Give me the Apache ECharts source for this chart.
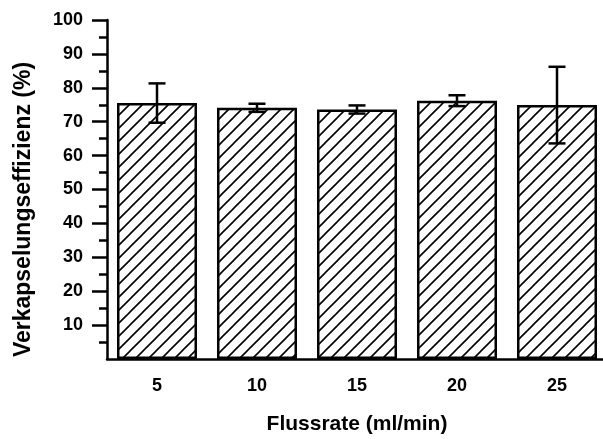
<!DOCTYPE html>
<html>
<head>
<meta charset="utf-8">
<script src="https://cdn.jsdelivr.net/npm/echarts@6/dist/echarts.min.js"></script>
<style>
  html, body { margin: 0; padding: 0; background: #fff; }
  #chart { width: 603px; height: 439px; }
</style>
</head>
<body>
<div id="chart"></div>
<script>
var categories = ['5', '10', '15', '20', '25'];
var values = [75.5, 74.1, 73.6, 76.2, 74.9];
var errors = [5.8, 1.2, 1.2, 1.6, 11.3];
var majorTicks = [10, 20, 30, 40, 50, 60, 70, 80, 90, 100];
var minorTicks = [5, 15, 25, 35, 45, 55, 65, 75, 85, 95];

// diagonal hatch tile
var tile = document.createElement('canvas');
var s = 13;
tile.width = s; tile.height = s;
var c = tile.getContext('2d');
c.fillStyle = '#fff';
c.fillRect(0, 0, s, s);
c.strokeStyle = '#000';
c.lineWidth = 1.6;
c.beginPath();
c.moveTo(-1, s + 1); c.lineTo(s + 1, -1);
c.moveTo(-1, 1); c.lineTo(1, -1);
c.moveTo(s - 1, s + 1); c.lineTo(s + 1, s - 1);
c.stroke();

var errData = values.map(function (v, i) {
    return [i, v - errors[i], v + errors[i]];
});

var font = '"Liberation Sans", Arial, sans-serif';

var chart = echarts.init(document.getElementById('chart'));
chart.setOption({
    animation: false,
    grid: { left: 107, top: 20, width: 500, height: 339, outerBoundsMode: 'none', containLabel: false },
    xAxis: {
        type: 'category',
        data: categories,
        name: 'Flussrate (ml/min)',
        nameLocation: 'middle',
        nameGap: 55,
        nameTextStyle: { fontFamily: font, fontWeight: 'bold', fontSize: 21, color: '#000' },
        axisLine: { lineStyle: { color: '#000', width: 2.5 } },
        axisTick: { show: false },
        axisLabel: { fontFamily: font, fontWeight: 'bold', fontSize: 18, color: '#000', margin: 18 },
        z: 5
    },
    yAxis: [
        {
            type: 'value',
            position: 'left',
            min: 0,
            max: 100,
            interval: 10,
            name: 'Verkapselungseffizienz (%)',
            nameLocation: 'middle',
            nameGap: 72,
            nameTextStyle: { fontFamily: font, fontWeight: 'bold', fontSize: 23, color: '#000', padding: [0, 40, 0, 0] },
            axisLine: { show: true, lineStyle: { color: '#000', width: 2.5 } },
            axisTick: { show: true, length: 15, customValues: majorTicks, lineStyle: { color: '#000', width: 2.5 } },
            splitLine: { show: false },
            axisLabel: {
                fontFamily: font, fontWeight: 'bold', fontSize: 18, color: '#000', margin: 24,
                customValues: majorTicks
            }
        },
        {
            type: 'value',
            position: 'left',
            offset: 0,
            min: 0,
            max: 100,
            interval: 10,
            axisLine: { show: false },
            axisTick: { show: true, length: 8, customValues: minorTicks, lineStyle: { color: '#000', width: 2.5 } },
            axisLabel: { show: false },
            splitLine: { show: false }
        }
    ],
    series: [
        {
            type: 'bar',
            data: values,
            barWidth: 80,
            itemStyle: {
                color: { image: tile, repeat: 'repeat' },
                borderColor: '#000',
                borderWidth: 2.5
            }
        },
        {
            type: 'custom',
            data: errData,
            z: 10,
            renderItem: function (params, api) {
                var x = api.value(0);
                var lo = api.coord([x, api.value(1)]);
                var hi = api.coord([x, api.value(2)]);
                var hw = 8.5;
                var st = { stroke: '#000', lineWidth: 2.5 };
                return {
                    type: 'group',
                    children: [
                        { type: 'line', shape: { x1: hi[0], y1: hi[1], x2: lo[0], y2: lo[1] }, style: st },
                        { type: 'line', shape: { x1: hi[0] - hw, y1: hi[1], x2: hi[0] + hw, y2: hi[1] }, style: st },
                        { type: 'line', shape: { x1: lo[0] - hw, y1: lo[1], x2: lo[0] + hw, y2: lo[1] }, style: st }
                    ]
                };
            }
        }
    ]
});
</script>
</body>
</html>
